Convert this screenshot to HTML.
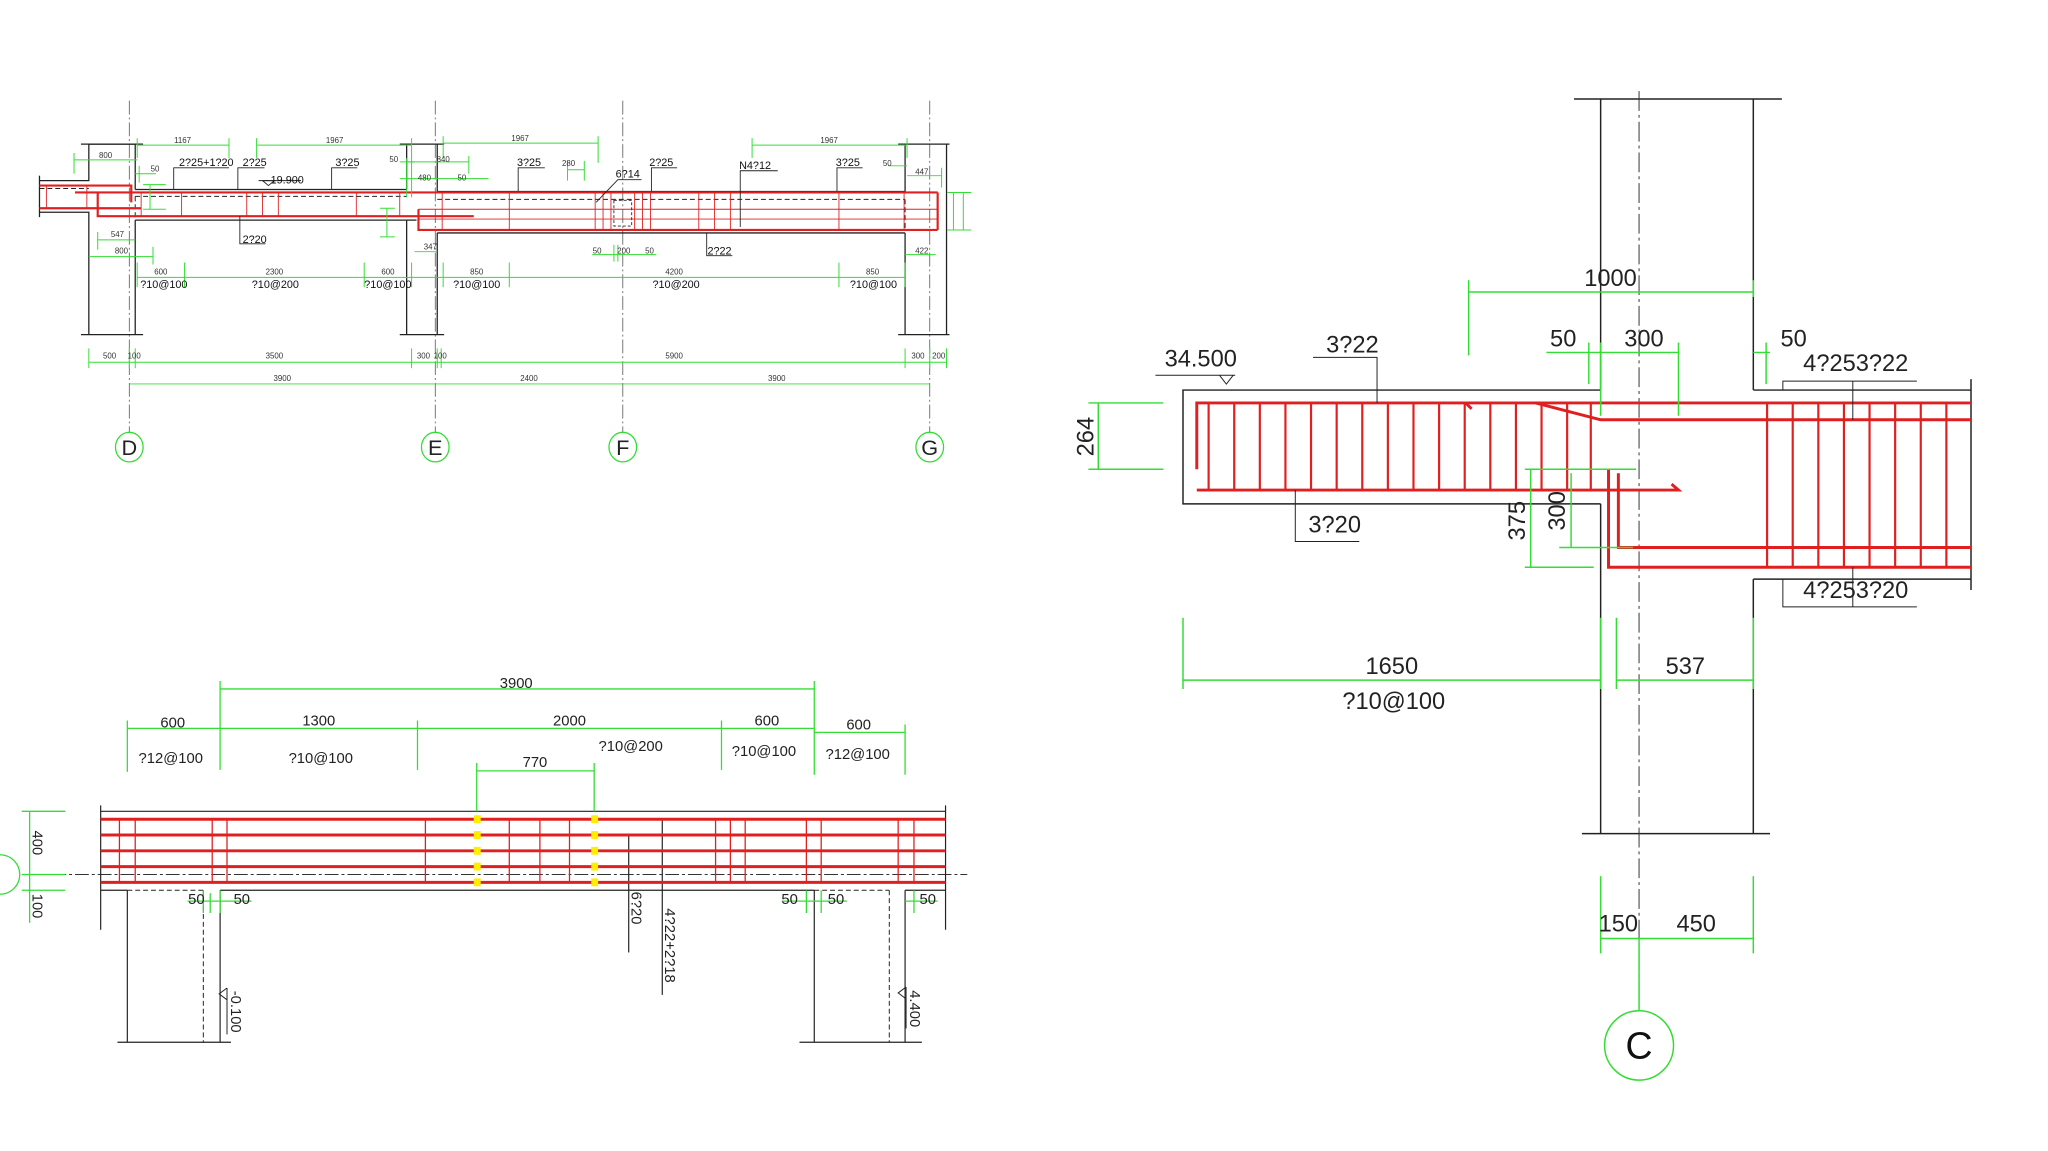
<!DOCTYPE html>
<html><head><meta charset="utf-8"><style>
html,body{margin:0;padding:0;background:#fff;}
svg{display:block;}
text{font-family:"Liberation Sans",sans-serif;}
</style></head><body>
<svg width="2048" height="1151" viewBox="0 0 2048 1151" xmlns="http://www.w3.org/2000/svg">
<rect width="2048" height="1151" fill="#fff"/>
<g transform="scale(0.987)">
<!-- ================= TOP LEFT DRAWING ================= -->
<g stroke="#555" stroke-width="0.8" stroke-dasharray="14,3,2,3" fill="none">
<line x1="131" y1="102" x2="131" y2="438"/>
<line x1="441" y1="102" x2="441" y2="438"/>
<line x1="631" y1="102" x2="631" y2="438"/>
<line x1="942" y1="102" x2="942" y2="438"/>
</g>
<g stroke="#33dd33" stroke-width="1.3" fill="none">
<ellipse cx="131" cy="453" rx="14" ry="15"/>
<ellipse cx="441" cy="453" rx="14" ry="15"/>
<ellipse cx="631" cy="453" rx="14" ry="15"/>
<ellipse cx="942" cy="453" rx="14" ry="15"/>
</g>
<g font-family="Liberation Serif" font-size="22" text-anchor="middle" fill="#222">
<text x="131" y="461">D</text><text x="441" y="461">E</text><text x="631" y="461">F</text><text x="942" y="461">G</text>
</g>
<g stroke="#222" stroke-width="1.3" fill="none">
<polyline points="40,183 90,183 90,146 137,146"/>
<polyline points="40,215 90,215 90,339"/>
<line x1="40" y1="178" x2="40" y2="220"/>
<line x1="137" y1="146" x2="137" y2="192"/>
<line x1="137" y1="192" x2="412" y2="192"/>
<line x1="137" y1="223" x2="412" y2="223"/>
<line x1="137" y1="223" x2="137" y2="339"/>
<line x1="82" y1="339" x2="145" y2="339"/>
<line x1="82" y1="146" x2="145" y2="146"/>
<line x1="412" y1="146" x2="412" y2="192"/>
<line x1="412" y1="223" x2="412" y2="339"/>
<line x1="443" y1="146" x2="443" y2="194"/>
<line x1="443" y1="236" x2="443" y2="339"/>
<line x1="405" y1="146" x2="450" y2="146"/>
<line x1="405" y1="339" x2="450" y2="339"/>
<line x1="443" y1="194" x2="917" y2="194"/>
<line x1="443" y1="236" x2="917" y2="236"/>
<line x1="412" y1="223" x2="422" y2="223"/>
<line x1="917" y1="146" x2="917" y2="194"/>
<line x1="917" y1="236" x2="917" y2="339"/>
<line x1="959" y1="146" x2="959" y2="339"/>
<line x1="910" y1="146" x2="962" y2="146"/>
<line x1="910" y1="339" x2="962" y2="339"/>
</g>
<g stroke="#222" stroke-width="1" stroke-dasharray="5,3" fill="none">
<line x1="40" y1="191" x2="90" y2="191"/>
<line x1="137" y1="199" x2="412" y2="199"/>
<line x1="443" y1="202" x2="917" y2="202"/>
<line x1="137" y1="199" x2="137" y2="223"/>
<line x1="917" y1="202" x2="917" y2="232"/>
</g>
<g stroke="#e02020" stroke-width="2.2" fill="none">
<polyline points="40,188 133,188 133,205"/>
<line x1="40" y1="211" x2="143" y2="211"/>
<line x1="76" y1="195" x2="950" y2="195"/>
<polyline points="99,195 99,219 480,219"/>
<polyline points="424,212 424,233 950,233"/>
<line x1="950" y1="195" x2="950" y2="233"/>
</g>
<g stroke="#e02020" stroke-width="0.9" fill="none">
<line x1="47" y1="188" x2="47" y2="211"/><line x1="88" y1="188" x2="88" y2="211"/>
<line x1="143" y1="195" x2="143" y2="219"/><line x1="184" y1="195" x2="184" y2="219"/>
<line x1="250" y1="195" x2="250" y2="219"/><line x1="266" y1="195" x2="266" y2="219"/><line x1="282" y1="195" x2="282" y2="219"/>
<line x1="361" y1="195" x2="361" y2="219"/><line x1="405" y1="195" x2="405" y2="219"/>
<line x1="448" y1="195" x2="448" y2="233"/><line x1="516" y1="195" x2="516" y2="233"/>
<line x1="603" y1="195" x2="603" y2="233"/><line x1="611" y1="195" x2="611" y2="233"/><line x1="619" y1="195" x2="619" y2="233"/>
<line x1="643" y1="195" x2="643" y2="233"/><line x1="651" y1="195" x2="651" y2="233"/><line x1="659" y1="195" x2="659" y2="233"/>
<line x1="708" y1="195" x2="708" y2="233"/><line x1="724" y1="195" x2="724" y2="233"/><line x1="740" y1="195" x2="740" y2="233"/>
<line x1="850" y1="195" x2="850" y2="233"/><line x1="916" y1="195" x2="916" y2="233"/>
<line x1="424" y1="212" x2="950" y2="212"/><line x1="424" y1="222" x2="950" y2="222"/>
</g>
<g stroke="#222" stroke-width="0.9" fill="none" stroke-dasharray="3,2">
<rect x="622" y="203" width="18" height="26"/>
</g>
<g stroke="#222" stroke-width="0.9" fill="none">
<polyline points="176,192 176,170 232,170"/>
<polyline points="241,192 241,170 268,170"/>
<polyline points="336,192 336,170 362,170"/>
<polyline points="525,194 525,170 552,170"/>
<polyline points="660,194 660,170 686,170"/>
<polyline points="750,230 750,173 788,173"/>
<polyline points="848,194 848,170 874,170"/>
<polyline points="604,205 626,182 650,182"/>
<polyline points="243,219 243,247 269,247"/>
<polyline points="716,236 716,259 742,259"/>
<polyline points="266,183 272,188 278,183 266,183"/>
<line x1="262" y1="183" x2="305" y2="183"/>
</g>
<g stroke="#33dd33" stroke-width="1" fill="none">
<line x1="139" y1="147" x2="232" y2="147"/><line x1="139" y1="140" x2="139" y2="160"/><line x1="232" y1="140" x2="232" y2="160"/>
<line x1="260" y1="147" x2="417" y2="147"/><line x1="260" y1="140" x2="260" y2="160"/><line x1="417" y1="140" x2="417" y2="200"/>
<line x1="449" y1="145" x2="606" y2="145"/><line x1="449" y1="138" x2="449" y2="160"/><line x1="606" y1="138" x2="606" y2="165"/>
<line x1="762" y1="147" x2="919" y2="147"/><line x1="762" y1="140" x2="762" y2="160"/><line x1="919" y1="140" x2="919" y2="160"/>
<line x1="75" y1="162" x2="139" y2="162"/><line x1="75" y1="155" x2="75" y2="176"/>
<line x1="137" y1="176" x2="158" y2="176"/><line x1="141" y1="168" x2="141" y2="185"/>
<line x1="152" y1="187" x2="152" y2="212"/><line x1="145" y1="187" x2="168" y2="187"/><line x1="145" y1="212" x2="168" y2="212"/>
<line x1="405" y1="164" x2="420" y2="164"/><line x1="412" y1="160" x2="412" y2="200"/>
<line x1="412" y1="164" x2="475" y2="164"/><line x1="475" y1="158" x2="475" y2="176"/>
<line x1="405" y1="181" x2="495" y2="181"/>
<line x1="575" y1="172" x2="592" y2="172"/><line x1="575" y1="163" x2="575" y2="183"/><line x1="592" y1="163" x2="592" y2="183"/>
<line x1="900" y1="168" x2="919" y2="168"/>
<line x1="919" y1="178" x2="954" y2="178"/><line x1="954" y1="170" x2="954" y2="190"/>
<line x1="392" y1="211" x2="392" y2="240"/><line x1="385" y1="211" x2="400" y2="211"/><line x1="385" y1="240" x2="400" y2="240"/>
<line x1="966" y1="195" x2="966" y2="233"/><line x1="976" y1="195" x2="976" y2="233"/><line x1="960" y1="195" x2="984" y2="195"/><line x1="960" y1="233" x2="984" y2="233"/>
<line x1="99" y1="243" x2="137" y2="243"/><line x1="99" y1="235" x2="99" y2="253"/>
<line x1="90" y1="260" x2="155" y2="260"/><line x1="155" y1="250" x2="155" y2="268"/>
<line x1="420" y1="255" x2="443" y2="255"/>
<line x1="600" y1="258" x2="665" y2="258"/><line x1="622" y1="248" x2="622" y2="265"/><line x1="626" y1="248" x2="626" y2="265"/>
<line x1="917" y1="258" x2="948" y2="258"/>
<line x1="139" y1="281" x2="917" y2="281"/>
<line x1="139" y1="266" x2="139" y2="291"/><line x1="187" y1="266" x2="187" y2="291"/><line x1="369" y1="266" x2="369" y2="291"/>
<line x1="417" y1="266" x2="417" y2="291"/><line x1="449" y1="266" x2="449" y2="291"/><line x1="516" y1="266" x2="516" y2="291"/>
<line x1="850" y1="266" x2="850" y2="291"/><line x1="917" y1="266" x2="917" y2="291"/>
<line x1="90" y1="367" x2="959" y2="367"/>
<line x1="90" y1="353" x2="90" y2="373"/><line x1="131" y1="353" x2="131" y2="373"/><line x1="137" y1="353" x2="137" y2="373"/>
<line x1="417" y1="353" x2="417" y2="373"/><line x1="443" y1="353" x2="443" y2="373"/><line x1="447" y1="353" x2="447" y2="373"/>
<line x1="917" y1="353" x2="917" y2="373"/><line x1="942" y1="353" x2="942" y2="373"/><line x1="959" y1="353" x2="959" y2="373"/>
<line x1="131" y1="389" x2="942" y2="389"/>
</g>
<g font-family="Liberation Serif" font-size="8" fill="#333" text-anchor="middle">
<text x="185" y="145">1167</text><text x="339" y="145">1967</text><text x="527" y="143">1967</text><text x="840" y="145">1967</text>
<text x="107" y="160">800</text><text x="157" y="174">50</text><text x="399" y="164">50</text><text x="449" y="164">840</text>
<text x="430" y="183">480</text><text x="468" y="183">50</text><text x="576" y="168">280</text><text x="899" y="168">50</text><text x="934" y="177">447</text>
<text x="119" y="240">547</text><text x="123" y="257">800</text><text x="436" y="253">347</text>
<text x="605" y="257">50</text><text x="632" y="257">200</text><text x="658" y="257">50</text><text x="934" y="257">422</text>
<text x="163" y="278">600</text><text x="278" y="278">2300</text><text x="393" y="278">600</text><text x="483" y="278">850</text><text x="683" y="278">4200</text><text x="884" y="278">850</text>
<text x="111" y="363">500</text><text x="136" y="363">100</text><text x="278" y="363">3500</text><text x="429" y="363">300</text><text x="446" y="363">100</text><text x="683" y="363">5900</text><text x="930" y="363">300</text><text x="951" y="363">200</text>
<text x="286" y="386">3900</text><text x="536" y="386">2400</text><text x="787" y="386">3900</text>
</g>
<g font-size="11" fill="#111" text-anchor="middle">
<text x="209" y="168">2?25+1?20</text><text x="258" y="168">2?25</text><text x="352" y="168">3?25</text><text x="536" y="168">3?25</text>
<text x="670" y="168">2?25</text><text x="765" y="171">N4?12</text><text x="859" y="168">3?25</text><text x="636" y="180">6?14</text>
<text x="291" y="186">19.900</text><text x="258" y="246">2?20</text><text x="729" y="258">2?22</text>
<text x="166" y="292">?10@100</text><text x="279" y="292">?10@200</text><text x="393" y="292">?10@100</text>
<text x="483" y="292">?10@100</text><text x="685" y="292">?10@200</text><text x="885" y="292">?10@100</text>
</g>

<!-- ================= BOTTOM LEFT DRAWING ================= -->
<line x1="30" y1="886" x2="980" y2="886" stroke="#333" stroke-width="1" stroke-dasharray="14,3,3,3"/>
<g stroke="#222" stroke-width="1.2" fill="none">
<line x1="102" y1="816" x2="102" y2="942"/>
<line x1="958" y1="816" x2="958" y2="942"/>
<line x1="102" y1="822" x2="958" y2="822"/>
<line x1="102" y1="902" x2="129" y2="902"/>
<line x1="223" y1="902" x2="825" y2="902"/>
<line x1="917" y1="902" x2="958" y2="902"/>
<line x1="129" y1="902" x2="129" y2="1056"/>
<line x1="223" y1="902" x2="223" y2="1056"/>
<line x1="119" y1="1056" x2="234" y2="1056"/>
<line x1="825" y1="902" x2="825" y2="1056"/>
<line x1="917" y1="902" x2="917" y2="1056"/>
<line x1="810" y1="1056" x2="934" y2="1056"/>
<polyline points="637,846 637,965"/>
<polyline points="671,830 671,1008"/>
</g>
<g stroke="#222" stroke-width="1" stroke-dasharray="5,3" fill="none">
<line x1="129" y1="902" x2="206" y2="902"/><line x1="206" y1="902" x2="206" y2="1056"/>
<line x1="825" y1="902" x2="901" y2="902"/><line x1="901" y1="902" x2="901" y2="1056"/>
</g>
<g stroke="#e02020" stroke-width="3" fill="none">
<line x1="102" y1="830" x2="958" y2="830"/><line x1="102" y1="846" x2="958" y2="846"/>
<line x1="102" y1="862" x2="958" y2="862"/><line x1="102" y1="878" x2="958" y2="878"/>
<line x1="102" y1="894" x2="958" y2="894"/>
</g>
<g stroke="#e02020" stroke-width="1.3" fill="none">
<line x1="121" y1="830" x2="121" y2="894"/><line x1="137" y1="830" x2="137" y2="894"/>
<line x1="215" y1="830" x2="215" y2="894"/><line x1="230" y1="830" x2="230" y2="894"/>
<line x1="431" y1="830" x2="431" y2="894"/><line x1="516" y1="830" x2="516" y2="894"/>
<line x1="547" y1="830" x2="547" y2="894"/><line x1="577" y1="830" x2="577" y2="894"/>
<line x1="725" y1="830" x2="725" y2="894"/><line x1="740" y1="830" x2="740" y2="894"/><line x1="755" y1="830" x2="755" y2="894"/>
<line x1="817" y1="830" x2="817" y2="894"/><line x1="832" y1="830" x2="832" y2="894"/>
<line x1="910" y1="830" x2="910" y2="894"/><line x1="926" y1="830" x2="926" y2="894"/>
</g>
<g fill="#ffee00">
<rect x="480" y="826" width="7" height="8"/><rect x="480" y="842" width="7" height="8"/><rect x="480" y="858" width="7" height="8"/><rect x="480" y="874" width="7" height="8"/><rect x="480" y="890" width="7" height="8"/>
<rect x="599" y="826" width="7" height="8"/><rect x="599" y="842" width="7" height="8"/><rect x="599" y="858" width="7" height="8"/><rect x="599" y="874" width="7" height="8"/><rect x="599" y="890" width="7" height="8"/>
</g>
<g stroke="#33dd33" stroke-width="1.3" fill="none">
<line x1="223" y1="698" x2="825" y2="698"/><line x1="223" y1="690" x2="223" y2="780"/><line x1="825" y1="690" x2="825" y2="785"/>
<line x1="129" y1="738" x2="825" y2="738"/><line x1="129" y1="730" x2="129" y2="782"/><line x1="423" y1="730" x2="423" y2="780"/><line x1="731" y1="730" x2="731" y2="780"/>
<line x1="825" y1="742" x2="917" y2="742"/><line x1="917" y1="734" x2="917" y2="785"/>
<line x1="483" y1="781" x2="602" y2="781"/><line x1="483" y1="773" x2="483" y2="822"/><line x1="602" y1="773" x2="602" y2="822"/>
<line x1="30" y1="822" x2="30" y2="935"/><line x1="22" y1="822" x2="66" y2="822"/><line x1="22" y1="886" x2="66" y2="886"/><line x1="22" y1="902" x2="66" y2="902"/>
<line x1="190" y1="913" x2="255" y2="913"/><line x1="206" y1="902" x2="206" y2="925"/><line x1="223" y1="902" x2="223" y2="925"/><line x1="213" y1="905" x2="213" y2="925"/>
<line x1="792" y1="913" x2="858" y2="913"/><line x1="817" y1="902" x2="817" y2="925"/><line x1="832" y1="902" x2="832" y2="925"/>
<line x1="917" y1="913" x2="950" y2="913"/><line x1="926" y1="902" x2="926" y2="925"/>
</g>
<path d="M 0 866 A 20 20 0 0 1 0 906" stroke="#33dd33" stroke-width="1.3" fill="none"/>
<g stroke="#222" stroke-width="1" fill="none">
<polyline points="230,1001 222,1007 230,1013"/><line x1="230" y1="1001" x2="230" y2="1048"/>
<polyline points="918,1000 910,1006 918,1012"/><line x1="918" y1="1000" x2="918" y2="1042"/>
</g>
<g font-size="15" fill="#222" text-anchor="middle">
<text x="523" y="697">3900</text>
<text x="175" y="737">600</text><text x="323" y="735">1300</text><text x="577" y="735">2000</text><text x="777" y="735">600</text><text x="870" y="739">600</text>
<text x="173" y="773">?12@100</text><text x="325" y="773">?10@100</text><text x="639" y="761">?10@200</text><text x="774" y="766">?10@100</text><text x="869" y="769">?12@100</text>
<text x="542" y="777">770</text>
<text x="199" y="916">50</text><text x="245" y="916">50</text><text x="800" y="916">50</text><text x="847" y="916">50</text><text x="940" y="916">50</text>
<text transform="translate(33,854) rotate(90)">400</text>
<text transform="translate(33,918) rotate(90)">100</text>
<text transform="translate(640,920) rotate(90)">6?20</text>
<text transform="translate(674,958) rotate(90)">4?22+2?18</text>
<text transform="translate(234,1025) rotate(90)">-0.100</text>
<text transform="translate(922,1022) rotate(90)">4.400</text>
</g>
</g>

<!-- ================= RIGHT DRAWING ================= -->
<g transform="translate(1183,0) scale(0.985,0.99) translate(-1183,0)">
<g stroke="#222" stroke-width="1.5" fill="none">
<line x1="1580" y1="100" x2="1791" y2="100"/>
<line x1="1588" y1="842" x2="1779" y2="842"/>
<line x1="1607" y1="100" x2="1607" y2="394"/>
<line x1="1607" y1="509" x2="1607" y2="842"/>
<line x1="1762" y1="100" x2="1762" y2="394"/>
<line x1="1762" y1="585" x2="1762" y2="842"/>
<polyline points="1607,394 1183,394 1183,509 1607,509"/>
<line x1="1762" y1="394" x2="1983" y2="394"/>
<line x1="1762" y1="585" x2="1983" y2="585"/>
<line x1="1983" y1="383" x2="1983" y2="596"/>
</g>
<line x1="1646" y1="92" x2="1646" y2="1022" stroke="#333" stroke-width="1" stroke-dasharray="20,4,3,4"/>
<ellipse cx="1646" cy="1056" rx="35" ry="35" stroke="#33dd33" stroke-width="1.5" fill="none"/>
<text x="1646" y="1069" font-family="Liberation Serif" font-size="38" text-anchor="middle" fill="#111">C</text>
<line x1="1646" y1="948" x2="1646" y2="1021" stroke="#33dd33" stroke-width="1.5"/>
<g stroke="#e02020" stroke-width="3" fill="none">
<polyline points="1197,474 1197,407 1983,407"/>
<polyline points="1541,407 1607,424 1983,424"/>
<polyline points="1197,495 1686,495 1679,489"/>
<polyline points="1625,478 1625,553 1983,553"/>
<polyline points="1615,474 1615,573 1983,573"/>
<polyline points="1470,407 1476,413"/>
</g>
<g stroke="#e02020" stroke-width="2.2" fill="none">
<line x1="1209" y1="407" x2="1209" y2="495"/><line x1="1235" y1="407" x2="1235" y2="495"/><line x1="1261" y1="407" x2="1261" y2="495"/>
<line x1="1287" y1="407" x2="1287" y2="495"/><line x1="1313" y1="407" x2="1313" y2="495"/><line x1="1339" y1="407" x2="1339" y2="495"/>
<line x1="1365" y1="407" x2="1365" y2="495"/><line x1="1391" y1="407" x2="1391" y2="495"/><line x1="1417" y1="407" x2="1417" y2="495"/>
<line x1="1443" y1="407" x2="1443" y2="495"/><line x1="1469" y1="407" x2="1469" y2="495"/><line x1="1495" y1="407" x2="1495" y2="495"/>
<line x1="1521" y1="407" x2="1521" y2="495"/><line x1="1547" y1="407" x2="1547" y2="495"/><line x1="1573" y1="407" x2="1573" y2="495"/><line x1="1597" y1="407" x2="1597" y2="495"/>
<line x1="1776" y1="407" x2="1776" y2="573"/><line x1="1802" y1="407" x2="1802" y2="573"/><line x1="1828" y1="407" x2="1828" y2="573"/>
<line x1="1854" y1="407" x2="1854" y2="573"/><line x1="1880" y1="407" x2="1880" y2="573"/><line x1="1906" y1="407" x2="1906" y2="573"/>
<line x1="1932" y1="407" x2="1932" y2="573"/><line x1="1958" y1="407" x2="1958" y2="573"/>
</g>
<g stroke="#222" stroke-width="1" fill="none">
<polyline points="1380,407 1380,361 1315,361"/>
<line x1="1155" y1="379" x2="1236" y2="379"/>
<polyline points="1220,379 1227,388 1234,379"/>
<polyline points="1297,495 1297,547 1362,547"/>
<polyline points="1792,394 1792,385 1928,385"/>
<line x1="1863" y1="385" x2="1863" y2="424"/>
<polyline points="1792,585 1792,613 1928,613"/>
<line x1="1863" y1="573" x2="1863" y2="613"/>
</g>
<g stroke="#33dd33" stroke-width="1.5" fill="none">
<line x1="1473" y1="295" x2="1762" y2="295"/><line x1="1473" y1="283" x2="1473" y2="359"/><line x1="1762" y1="283" x2="1762" y2="300"/>
<line x1="1552" y1="356" x2="1686" y2="356"/><line x1="1595" y1="346" x2="1595" y2="388"/><line x1="1607" y1="346" x2="1607" y2="420"/><line x1="1686" y1="346" x2="1686" y2="420"/>
<line x1="1762" y1="356" x2="1779" y2="356"/><line x1="1775" y1="346" x2="1775" y2="388"/>
<line x1="1097" y1="407" x2="1097" y2="474"/><line x1="1087" y1="407" x2="1163" y2="407"/><line x1="1087" y1="474" x2="1163" y2="474"/>
<line x1="1536" y1="474" x2="1536" y2="573"/><line x1="1530" y1="474" x2="1643" y2="474"/><line x1="1530" y1="573" x2="1600" y2="573"/>
<line x1="1577" y1="478" x2="1577" y2="553"/><line x1="1565" y1="553" x2="1640" y2="553"/>
<line x1="1183" y1="687" x2="1607" y2="687"/><line x1="1183" y1="624" x2="1183" y2="696"/><line x1="1607" y1="624" x2="1607" y2="696"/>
<line x1="1623" y1="687" x2="1762" y2="687"/><line x1="1623" y1="624" x2="1623" y2="696"/><line x1="1762" y1="624" x2="1762" y2="696"/>
<line x1="1607" y1="948" x2="1762" y2="948"/><line x1="1607" y1="885" x2="1607" y2="963"/><line x1="1762" y1="885" x2="1762" y2="963"/>
</g>
<g font-size="24" fill="#222" text-anchor="middle">
<text x="1617" y="289">1000</text>
<text x="1569" y="350">50</text><text x="1651" y="350">300</text><text x="1803" y="350">50</text>
<text x="1201" y="370">34.500</text><text x="1355" y="356">3?22</text>
<text x="1866" y="375">4?253?22</text><text x="1337" y="538">3?20</text>
<text x="1866" y="604">4?253?20</text>
<text x="1395" y="681">1650</text><text x="1397" y="716">?10@100</text><text x="1693" y="681">537</text>
<text x="1625" y="941">150</text><text x="1704" y="941">450</text>
<text transform="translate(1092,441) rotate(-90)">264</text>
<text transform="translate(1530,526) rotate(-90)">375</text>
<text transform="translate(1571,516) rotate(-90)">300</text>
</g>
</g>
</svg>
</body></html>
